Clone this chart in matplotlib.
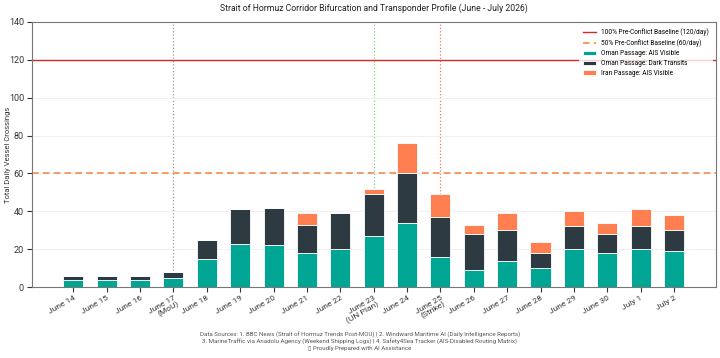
import matplotlib.pyplot as plt
import numpy as np

plt.rcParams['font.family'] = ['Roboto', 'DejaVu Sans']

# daily crossings
days = ["June 14", "June 15", "June 16", "June 17\n(MoU)", "June 18", "June 19",
        "June 20", "June 21", "June 22", "June 23\n(UN Plan)", "June 24",
        "June 25\n(Strike)", "June 26", "June 27", "June 28", "June 29",
        "June 30", "July 1", "July 2"]
oman_visible = [4, 4, 4, 5, 15, 23, 22, 18, 20, 27, 34, 16, 9, 14, 10, 20, 18, 20, 19]
oman_dark = [2, 2, 2, 3, 10, 18, 20, 15, 19, 22, 26, 21, 19, 16, 8, 12, 10, 12, 11]
iran_visible = [0, 0, 0, 0, 0, 0, 0, 6, 0, 3, 16, 12, 5, 9, 6, 8, 6, 9, 8]

baseline_full = 120
baseline_half = 60

# event markers (index into days)
events = {3: "#999999", 9: "#8cc98c", 11: "#e57373"}

teal = "#00A693"
dark = "#2E3A42"
coral = "#FF7F50"

x = np.arange(len(days))
vis = np.array(oman_visible)
drk = np.array(oman_dark)

fig, ax = plt.subplots(figsize=(7.2, 3.58), dpi=100)
fig.subplots_adjust(left=0.044, right=0.994, top=0.939, bottom=0.198)

ax.axhline(baseline_full, color="#D62828", linewidth=1.0,
           label="100% Pre-Conflict Baseline (120/day)", zorder=2)
ax.axhline(baseline_half, color="#F28C4E", linewidth=1.2, linestyle=(0, (4, 2.5)),
           label="50% Pre-Conflict Baseline (60/day)", zorder=2)

ax.bar(x, vis, width=0.6, color=teal, edgecolor="white", linewidth=0.6,
       label="Oman Passage: AIS Visible", zorder=3)
ax.bar(x, drk, width=0.6, bottom=vis, color=dark, edgecolor="white", linewidth=0.6,
       label="Oman Passage: Dark Transits", zorder=3)
ax.bar(x, iran_visible, width=0.6, bottom=vis + drk, color=coral, edgecolor="white",
       linewidth=0.6, label="Iran Passage: AIS Visible", zorder=3)

for idx, col in events.items():
    ax.axvline(idx, color=col, linestyle=":", linewidth=0.9, zorder=1)

ax.set_xlim(-1.25, len(days) - 1 + 1.25)
ax.set_ylim(0, 140)
ax.set_yticks(range(0, 141, 20))
ax.set_xticks(x)
ax.set_xticklabels(days, rotation=30, ha="right", rotation_mode="anchor",
                   fontsize=6, linespacing=1.0)
ax.tick_params(axis="y", labelsize=6.5, colors="#333333", pad=2)
ax.tick_params(axis="x", colors="#333333", pad=2)
ax.grid(axis="y", color="#eeeeee", linewidth=0.6, zorder=0)
for s in ax.spines.values():
    s.set_color("#777777")
    s.set_linewidth(0.8)

ax.set_ylabel("Total Daily Vessel Crossings", fontsize=5.5, color="#333333")
ax.yaxis.set_label_coords(-0.03, 0.5)
ax.set_title("Strait of Hormuz Corridor Bifurcation and Transponder Profile (June - July 2026)",
             fontsize=6.2, color="#222222", pad=8)

leg = ax.legend(loc="upper right", fontsize=4.7, frameon=True, edgecolor="none",
                framealpha=0.8, borderpad=0.6, borderaxespad=0.4,
                labelspacing=0.45, handlelength=2.0)
leg.get_frame().set_linewidth(0)

fig.text(0.5, 0.072,
         "Data Sources: 1. BBC News (Strait of Hormuz Trends Post-MOU) | 2. Windward Maritime AI (Daily Intelligence Reports)\n"
         "3. MarineTraffic via Anadolu Agency (Weekend Shipping Logs) | 4. Safety4Sea Tracker (AIS-Disabled Routing Matrix)\n"
         "\u25af Proudly Prepared with AI Assistance",
         ha="center", va="top", fontsize=4.4, color="#555555", linespacing=1.2)

fig.savefig("out.png", dpi=100)
